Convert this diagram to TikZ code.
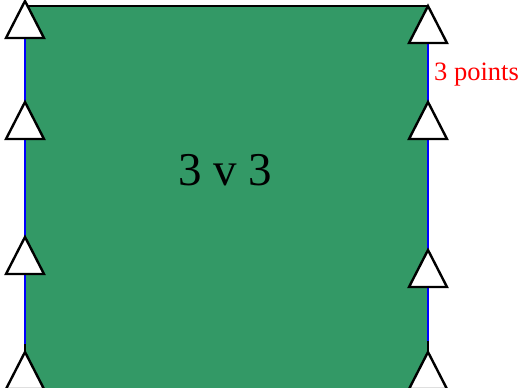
\documentclass[tikz,border=0pt]{standalone}
\usepackage{fontspec}
\setmainfont{Liberation Serif}
\definecolor{pitch}{RGB}{51,153,102}

\begin{document}
\begin{tikzpicture}[x=1pt, y=-1pt, line join=miter]
		\clip (0, 0) rectangle (523, 388);
		\useasboundingbox (0, 0) rectangle (523, 388);
		\fill [pitch] (25, 6) rectangle (428, 400);
		\draw [line width=2.2pt] (25, 400) -- (25, 6) -- (428, 6) -- (428, 400);
		\draw [blue, line width=2.2pt] (25, 38) -- (25, 344);
		\draw [blue, line width=2.2pt] (428, 43) -- (428, 341);
		\foreach \y in {1, 102, 237, 352}
			\draw [fill=white, line width=2.4pt] (25, \y) -- (44, \y+37) -- (6, \y+37) -- cycle;
		\foreach \y in {6, 102, 250, 352}
			\draw [fill=white, line width=2.4pt] (428, \y) -- (447, \y+37) -- (409, \y+37) -- cycle;
		\node (score) at (225, 170) {\fontsize{47}{50}\selectfont 3 v 3};
		\node (points) at (434, 75) [right, inner sep=0pt, red] {\fontsize{26.5}{29}\selectfont 3 points};
	\end{tikzpicture}
\end{document}
